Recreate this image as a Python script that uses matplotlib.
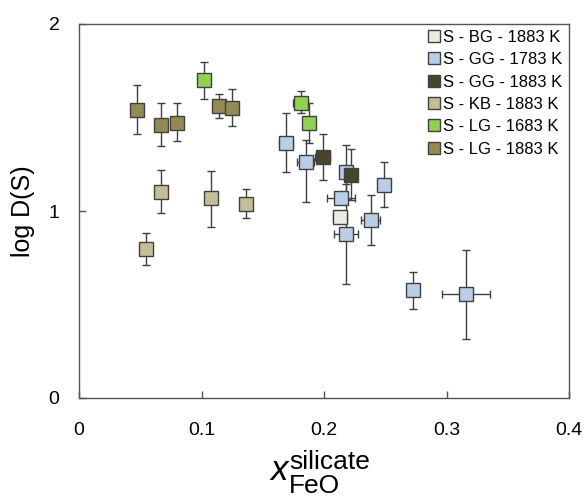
import matplotlib
matplotlib.use("Agg")
import matplotlib.pyplot as plt
from matplotlib.lines import Line2D
import numpy as np

plt.rcParams['font.family'] = ['Liberation Sans', 'DejaVu Sans']

# ---- data ----
labels = ["S - BG - 1883 K", "S - GG - 1783 K", "S - GG - 1883 K",
          "S - KB - 1883 K", "S - LG - 1683 K", "S - LG - 1883 K"]
colors = ["#EEECE1", "#B9CDE5", "#4A452A", "#C4BD97", "#92D050", "#948A54"]

bg_x = [0.213]
bg_y = [0.970]
bg_ylo = [0.0]
bg_yhi = [0.0]
bg_xerr = [0.006]

gg1783_x = [0.169, 0.185, 0.218, 0.249, 0.214, 0.218, 0.238, 0.273, 0.316]
gg1783_y = [1.366, 1.262, 1.208, 1.140, 1.071, 0.879, 0.951, 0.575, 0.556]
gg1783_ylo = [0.160, 0.213, 0.145, 0.120, 0.0, 0.268, 0.135, 0.099, 0.240]
gg1783_yhi = [0.160, 0.120, 0.145, 0.122, 0.0, 0.268, 0.134, 0.097, 0.238]
gg1783_xerr = [0.006, 0.007, 0.004, 0.003, 0.0116, 0.010, 0.008, 0.0, 0.0195]

gg1883_x = [0.199, 0.222]
gg1883_y = [1.289, 1.193]
gg1883_ylo = [0.125, 0.133]
gg1883_yhi = [0.125, 0.137]
gg1883_xerr = [0.006, 0.005]

kb_x = [0.0547, 0.0672, 0.1075, 0.136]
kb_y = [0.797, 1.101, 1.067, 1.038]
kb_ylo = [0.087, 0.114, 0.154, 0.073]
kb_yhi = [0.084, 0.120, 0.147, 0.077]
kb_xerr = [0.0, 0.0, 0.0, 0.0]

lg1683_x = [0.102, 0.181, 0.188]
lg1683_y = [1.700, 1.580, 1.469]
lg1683_ylo = [0.100, 0.057, 0.103]
lg1683_yhi = [0.098, 0.064, 0.107]
lg1683_xerr = [0.0, 0.006, 0.0]

lg1883_x = [0.0476, 0.0672, 0.080, 0.114, 0.125]
lg1883_y = [1.539, 1.458, 1.473, 1.560, 1.551]
lg1883_ylo = [0.129, 0.108, 0.100, 0.064, 0.099]
lg1883_yhi = [0.136, 0.118, 0.103, 0.068, 0.104]
lg1883_xerr = [0.0, 0.0, 0.0, 0.0, 0.0]

series = [
    (bg_x, bg_y, bg_ylo, bg_yhi, bg_xerr),
    (gg1783_x, gg1783_y, gg1783_ylo, gg1783_yhi, gg1783_xerr),
    (gg1883_x, gg1883_y, gg1883_ylo, gg1883_yhi, gg1883_xerr),
    (kb_x, kb_y, kb_ylo, kb_yhi, kb_xerr),
    (lg1683_x, lg1683_y, lg1683_ylo, lg1683_yhi, lg1683_xerr),
    (lg1883_x, lg1883_y, lg1883_ylo, lg1883_yhi, lg1883_xerr),
]

xticks = [0, 0.1, 0.2, 0.3, 0.4]
xticklabels = ["0", "0.1", "0.2", "0.3", "0.4"]
yticks = [0, 1, 2]
yticklabels = ["0", "1", "2"]

# ---- figure ----
W, H = 588, 500
fig = plt.figure(figsize=(W/100, H/100), dpi=100)
ax = fig.add_axes([79/W, 1 - 398/H, (569-79)/W, (398-24)/H])

edge = "#404040"
for (x, y, ylo, yhi, xe), c in zip(series, colors):
    xe_arr = np.array(xe)
    ax.errorbar(x, y, yerr=[ylo, yhi], xerr=xe_arr, fmt='s', ms=10.5,
                mfc=c, mec=edge, mew=1.0, ecolor=edge, elinewidth=1.0,
                capsize=3, capthick=1.0, zorder=3)

ax.set_xlim(0, 0.4)
ax.set_ylim(0, 2)
ax.set_xticks(xticks)
ax.set_xticklabels(xticklabels)
ax.set_yticks(yticks)
ax.set_yticklabels(yticklabels)
ax.tick_params(direction='in', length=5, width=1, color='#555555',
               labelsize=14)
ax.tick_params(axis='x', pad=17)
ax.tick_params(axis='y', pad=14)
for s in ax.spines.values():
    s.set_color('#555555')
    s.set_linewidth(1.0)

ax.set_ylabel("log D(S)", fontsize=18, labelpad=10)

# x-axis label: italic x with stacked superscript / subscript
fig.text(270/W, 1 - 480/H, "x", fontsize=25, style='italic',
         ha='left', va='baseline')
fig.text(289/W, 1 - 469/H, "silicate", fontsize=19, ha='left', va='baseline')
fig.text(289/W, 1 - 493/H, "FeO", fontsize=19, ha='left', va='baseline')

handles = [Line2D([], [], marker='s', ls='none', ms=8, mfc=c, mec=edge, mew=1.0)
           for c in colors]
ax.legend(handles, labels, loc='upper right', bbox_to_anchor=(562/W, 1 - 30/H),
          bbox_transform=fig.transFigure, frameon=False, fontsize=12,
          handlelength=0.7, handletextpad=0.15, labelspacing=0.44,
          borderaxespad=0, borderpad=0)

fig.savefig("out.png", dpi=100)
